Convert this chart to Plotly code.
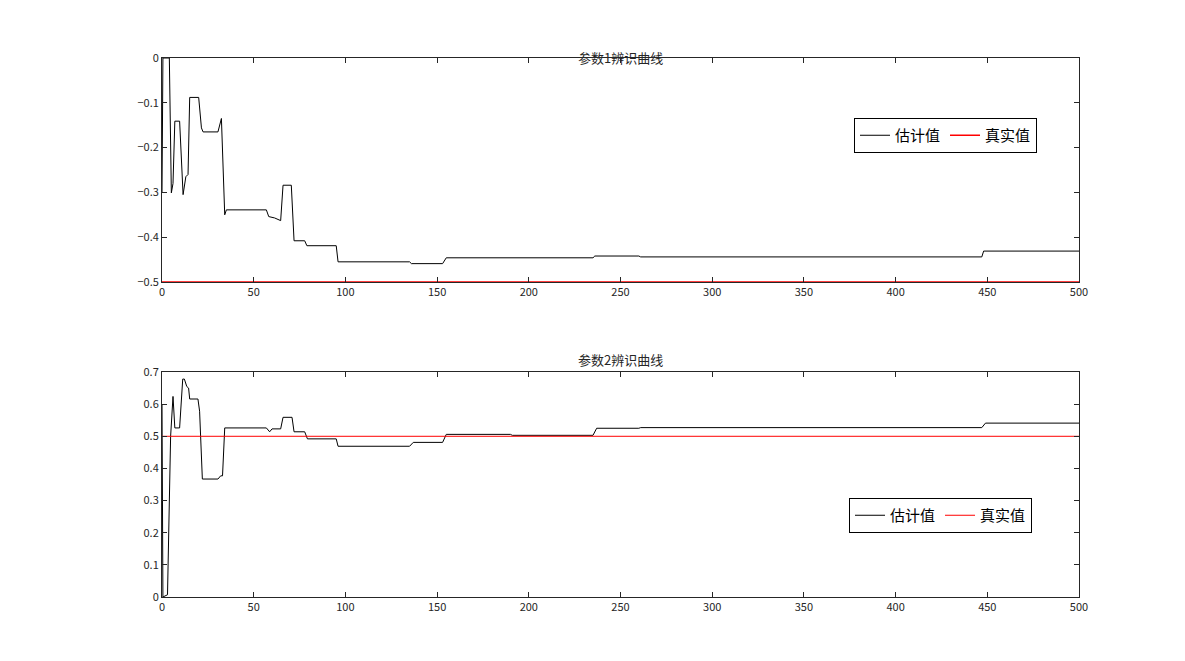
import plotly.graph_objects as go

# --- 数据 ---
k1 = [0, 0.5, 4, 5.1, 6, 7, 9.6, 11.5, 13, 14.2, 15.1, 20, 21.5, 22.4, 30.5, 32.4, 34.2, 35.1,
      56.9, 58.2, 61.4, 64.7, 66, 70.5, 72, 77.8, 79, 95, 96, 135, 136, 153, 155, 235, 236, 260, 261, 447, 448, 500]
theta1 = [-0.3, 0, 0, -0.301, -0.28, -0.141, -0.141, -0.305, -0.265, -0.26, -0.088, -0.088, -0.156, -0.165,
          -0.165, -0.135, -0.35, -0.339, -0.339, -0.354, -0.357, -0.363, -0.284, -0.284, -0.408, -0.408,
          -0.419, -0.419, -0.455, -0.455, -0.459, -0.459, -0.446, -0.446, -0.442, -0.442, -0.444, -0.444, -0.431, -0.431]
k2 = [0, 0.5, 3, 4.7, 6, 7, 9.6, 11.3, 12.2, 13.5, 14.5, 15.1, 19.6, 20.5, 22, 30.5, 32, 33, 34.2,
      56.9, 58.7, 60, 64.7, 66, 70.9, 72, 77.8, 79.3, 95, 96, 135, 137, 153, 155, 190, 191, 235, 237, 260, 261, 447, 449, 500]
theta2 = [0.6, 0, 0.007, 0.5, 0.624, 0.526, 0.526, 0.678, 0.678, 0.655, 0.65, 0.616, 0.616, 0.578, 0.367,
          0.367, 0.377, 0.377, 0.526, 0.526, 0.514, 0.523, 0.523, 0.559, 0.559, 0.514, 0.514, 0.492, 0.492,
          0.469, 0.469, 0.481, 0.481, 0.506, 0.506, 0.503, 0.503, 0.525, 0.525, 0.527, 0.527, 0.541, 0.541]
true_x = [0, 500]
true1 = [-0.5, -0.5]
true2 = [0.5, 0.5]

fig = go.Figure()
fig.add_trace(go.Scatter(x=k1, y=theta1, mode='lines', line=dict(color='black', width=1),
                         name='估计值', xaxis='x', yaxis='y', legend='legend'))
fig.add_trace(go.Scatter(x=true_x, y=true1, mode='lines', line=dict(color='red', width=1.5),
                         name='真实值', xaxis='x', yaxis='y', legend='legend'))
fig.add_trace(go.Scatter(x=k2, y=theta2, mode='lines', line=dict(color='black', width=1),
                         name='估计值', xaxis='x2', yaxis='y2', legend='legend2'))
fig.add_trace(go.Scatter(x=true_x, y=true2, mode='lines', line=dict(color='red', width=1),
                         name='真实值', xaxis='x2', yaxis='y2', legend='legend2'))

# 绘图区: 左154 右1071 上50 下589 (像素)
L, R, T, B = 154, 1071, 50, 589
W, H = R - L, B - T

def px_x(p):
    return (p - L) / W

def px_y(p):
    return 1 - (p - T) / H

ax = dict(showline=True, linecolor='#262626', linewidth=1, mirror='ticks', ticks='inside',
          ticklen=5, tickcolor='#262626', showgrid=False, zeroline=False, automargin=False,
          tickfont=dict(size=11, color='#262626'))
leg = dict(orientation='h', xanchor='left', yanchor='top', bgcolor='white',
           bordercolor='black', borderwidth=1, font=dict(size=15, color='black', family='Noto Sans CJK SC'),
           itemwidth=30, tracegroupgap=0)

fig.update_layout(
    width=1185, height=661, margin=dict(l=L, r=1185 - R, t=T, b=661 - B, autoexpand=False),
    plot_bgcolor='white', paper_bgcolor='white',
    font=dict(family='Noto Sans CJK SC', color='#262626'),
    xaxis=dict(ax, domain=[0, 1], range=[0, 500], dtick=50, anchor='y'),
    yaxis=dict(ax, domain=[px_y(274), 1], range=[-0.5, 0], dtick=0.1, anchor='x'),
    xaxis2=dict(ax, domain=[0, 1], range=[0, 500], dtick=50, anchor='y2'),
    yaxis2=dict(ax, domain=[0, px_y(364)], range=[0, 0.7], dtick=0.1, anchor='x2'),
    legend=dict(leg, x=px_x(846), y=px_y(110)),
    legend2=dict(leg, x=px_x(841), y=px_y(490)),
    annotations=[
        dict(text='参数1辨识曲线', x=0.5, y=px_y(38), xref='paper', yref='paper',
             showarrow=False, font=dict(size=13, color='#262626')),
        dict(text='参数2辨识曲线', x=0.5, y=px_y(351), xref='paper', yref='paper',
             showarrow=False, font=dict(size=13, color='#262626')),
    ],
)

fig.write_html("out.html")
